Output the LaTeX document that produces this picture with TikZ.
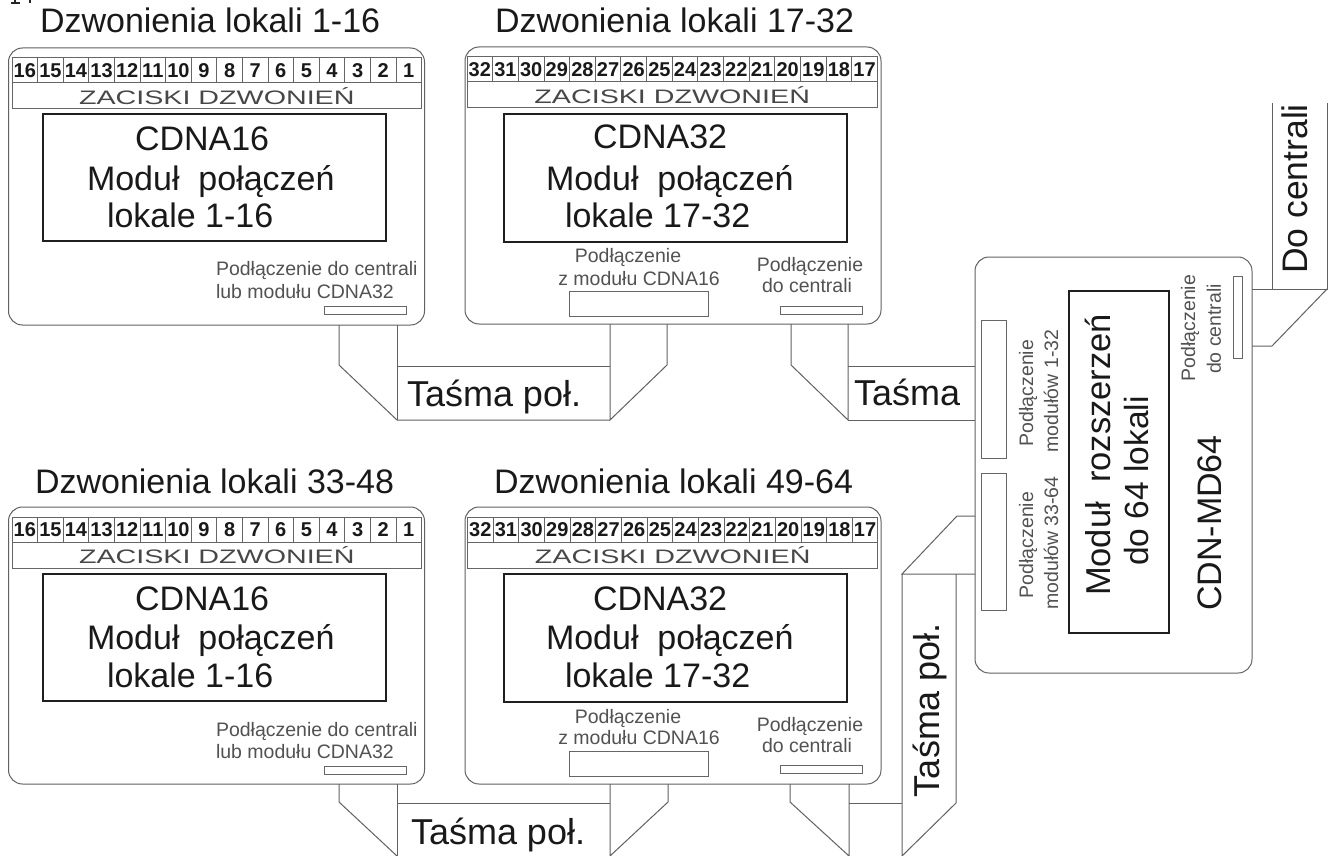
\documentclass[tikz,border=0pt]{standalone}
\usepackage{fontspec}
\setmainfont{Liberation Sans}
\tikzset{
  every node/.style={inner sep=0pt,outer sep=0pt,text=black!90},
  modbox/.style={draw=black!62,line width=1pt,rounded corners=14pt,anchor=north west,fill=white},
  lcdbox/.style={draw=black!88,line width=2.2pt,anchor=north west},
  port/.style={draw=black!60,line width=1pt,anchor=north west},
  strip/.style={draw=black!60,line width=1pt,anchor=north west},
  title/.style={font=\fontsize{34}{34}\selectfont,anchor=base west},
  lcd/.style={font=\fontsize{34}{34}\selectfont,anchor=base west},
  small/.style={font=\fontsize{19.5}{19.5}\selectfont,text=black!68},
  num/.style={font=\fontsize{20}{20}\bfseries\selectfont},
  ribbon/.style={draw=black!62,line width=1pt,line join=miter},
  big/.style={font=\fontsize{34}{34}\selectfont},
  bigger/.style={font=\fontsize{36}{36}\selectfont},
}
% #1 prefix, #2 box x, #3 box y, #4 strip x, #5 cell width, #6 first number, #7 last number
\newcommand{\modulebase}[7]{%
  \node[modbox,minimum width=416pt,minimum height=277pt] (#1) at (#2,#3) {};
  \node[strip,minimum width=#5*16 pt,minimum height=25pt] (#1n) at (#4,#3+10) {};
  \node[strip,minimum width=#5*16 pt,minimum height=26pt] (#1z) at (#4,#3+35) {};
  \node[font=\fontsize{19.5}{19.5}\selectfont,text=black!72] (#1zt) at (#1z.center) {\scalebox{1.47}[1]{ZACISKI DZWONIEŃ}};
  \foreach \k in {0,...,15} {
    \pgfmathtruncatemacro{\lab}{#6-\k}
    \node[num] (#1c\k) at (#4+#5*\k+#5/2,#3+22.5) {\lab};
    \ifnum\k>0 \draw[black!60,line width=.9pt] (#4+#5*\k,#3+10) -- (#4+#5*\k,#3+35); \fi
  }
}
\begin{document}
\begin{tikzpicture}[x=1pt,y=-1pt]
\useasboundingbox (0,0) rectangle (1330,856);
\fill[white] (0,0) rectangle (1330,856);

% stray marks at the top edge
\draw[black!85,line width=1.2pt] (15,0) -- (15,3) (11,3) -- (20,3) (30,0) -- (30,3);

\modulebase{a}{8.5}{48}{12}{25.6}{16}{1}
\modulebase{b}{465}{47}{467}{25.65}{32}{17}
\modulebase{c}{8.5}{507}{12}{25.6}{16}{1}
\modulebase{d}{465}{507}{467.5}{25.65}{32}{17}

% module A
\node[title] (ta) at (40,33) {Dzwonienia lokali 1-16};
\node[lcdbox,minimum width=343pt,minimum height=127pt] (al) at (43,114) {};
\node[lcd] (al1) at (135,150) {CDNA16};
\node[lcd] (al2) at (87,190) {Moduł\ \ połączeń};
\node[lcd] (al3) at (107,227) {lokale 1-16};
\node[small,anchor=base west] (as1) at (216,275) {Podłączenie do centrali};
\node[small,anchor=base west] (as2) at (216,298) {lub modułu CDNA32};
\node[port,minimum width=82pt,minimum height=8.5pt] (ap) at (324,306) {};

% module B
\node[title] (tb) at (495,33) {Dzwonienia lokali 17-32};
\node[lcdbox,minimum width=343pt,minimum height=128pt] (bl) at (504,114) {};
\node[lcd] (bl1) at (593,149) {CDNA32};
\node[lcd] (bl2) at (546,190) {Moduł\ \ połączeń};
\node[lcd] (bl3) at (565,227) {lokale 17-32};
\node[small,anchor=base] (bs1) at (628,262) {Podłączenie};
\node[small,anchor=base] (bs2) at (639,285) {z modułu CDNA16};
\node[port,minimum width=139pt,minimum height=25pt] (bp1) at (569,291) {};
\node[small,anchor=base] (bs3) at (810,271) {Podłączenie};
\node[small,anchor=base] (bs4) at (807,292) {do centrali};
\node[port,minimum width=82pt,minimum height=8.5pt] (bp2) at (780,306) {};

% module C
\node[title] (tc) at (35,493) {Dzwonienia lokali 33-48};
\node[lcdbox,minimum width=343pt,minimum height=127pt] (cl) at (43,574) {};
\node[lcd] (cl1) at (135,610) {CDNA16};
\node[lcd] (cl2) at (87,649) {Moduł\ \ połączeń};
\node[lcd] (cl3) at (107,687) {lokale 1-16};
\node[small,anchor=base west] (cs1) at (216,736) {Podłączenie do centrali};
\node[small,anchor=base west] (cs2) at (216,758) {lub modułu CDNA32};
\node[port,minimum width=82pt,minimum height=8.5pt] (cp) at (324,766) {};

% module D
\node[title] (td) at (494,493) {Dzwonienia lokali 49-64};
\node[lcdbox,minimum width=343pt,minimum height=128pt] (dl) at (504,574) {};
\node[lcd] (dl1) at (593,610) {CDNA32};
\node[lcd] (dl2) at (546,649) {Moduł\ \ połączeń};
\node[lcd] (dl3) at (565,687) {lokale 17-32};
\node[small,anchor=base] (ds1) at (628,723) {Podłączenie};
\node[small,anchor=base] (ds2) at (639,744) {z modułu CDNA16};
\node[port,minimum width=139pt,minimum height=25pt] (dp1) at (569,751) {};
\node[small,anchor=base] (ds3) at (810,731) {Podłączenie};
\node[small,anchor=base] (ds4) at (807,752) {do centrali};
\node[port,minimum width=82pt,minimum height=8.5pt] (dp2) at (780,765) {};

% module E (right, rotated)
\node[modbox,minimum width=277pt,minimum height=416pt] (e) at (975,257) {};
\node[lcdbox,minimum width=100pt,minimum height=342pt] (el) at (1069,291) {};
\node[port,minimum width=25pt,minimum height=138pt] (ep1) at (981,320) {};
\node[port,minimum width=25pt,minimum height=137pt] (ep2) at (981,473) {};
\node[port,minimum width=9pt,minimum height=82pt] (ep3) at (1233,276) {};
\node[rotate=90,font=\fontsize{34.5}{34.5}\selectfont] (et1) at (1098,455) {Moduł\ \ rozszerzeń};
\node[rotate=90,font=\fontsize{33.5}{33.5}\selectfont] (et2) at (1137,481) {do 64 lokali};
\node[rotate=90,big] (et3) at (1210,523) {CDN-MD64};
\node[rotate=90,small] (es1) at (1028,393) {Podłączenie};
\node[rotate=90,small] (es2) at (1051,391) {modułów 1-32};
\node[rotate=90,small] (es3) at (1028,545) {Podłączenie};
\node[rotate=90,small] (es4) at (1051,543) {modułów 33-64};
\node[rotate=90,small] (es5) at (1190,328) {Podłączenie};
\node[rotate=90,small] (es6) at (1214,329) {do centrali};

% ---- ribbon ends ----
\coordinate (r1a) at (339,365); \coordinate (r1b) at (397,420);
\coordinate (r1c) at (397,366); \coordinate (r1d) at (667,365);
\coordinate (r2a) at (791,365); \coordinate (r2b) at (848,420);
\coordinate (r2c) at (848,366);
\coordinate (r3a) at (1272,103); \coordinate (r3b) at (1272,289);
\coordinate (r3c) at (1327,103); \coordinate (r3d) at (1327,289);
\coordinate (r3e) at (1272,346);
\coordinate (r4a) at (339,802); \coordinate (r4b) at (397,856);
\coordinate (r4c) at (397,803); \coordinate (r4d) at (668,802);
\coordinate (r4e) at (610,856);
\coordinate (r5a) at (790,802); \coordinate (r5b) at (849,856);
\coordinate (r5c) at (849,803);
\coordinate (r6a) at (957,516); \coordinate (r6b) at (902,574);
\coordinate (r6c) at (956,574); \coordinate (r6d) at (956,803);
\coordinate (r6e) at (902,803); \coordinate (r6f) at (902,856);

% A -> B
\draw[ribbon] (339,325 |- a.south) -- (r1a) -- (r1b) -- (610,420);
\draw[ribbon] (397,325 |- a.south) -- (r1b);
\draw[ribbon] (r1c) -- (610,366);
\draw[ribbon] (610,325 |- b.south) -- (610,420) -- (r1d) -- (667,325 |- b.south);
% B -> E
\draw[ribbon] (791,325 |- b.south) -- (r2a) -- (r2b) -- (848,325 |- b.south);
\draw[ribbon] (r2c) -- (975,366);
\draw[ribbon] (r2b) -- (975,420);
% E -> exchange
\draw[ribbon] (r3a) -- (r3b);
\draw[ribbon] (r3c) -- (r3d) -- (1252,289);
\draw[ribbon] (r3d) -- (r3e) -- (1252,346);
% C -> D
\draw[ribbon] (339,784 |- c.south) -- (r4a) -- (r4b);
\draw[ribbon] (397,784 |- c.south) -- (r4b);
\draw[ribbon] (r4c) -- (610,803);
\draw[ribbon] (610,784 |- d.south) -- (r4e) -- (r4d) -- (668,784 |- d.south);
% D -> E
\draw[ribbon] (790,784 |- d.south) -- (r5a) -- (r5b) -- (849,784 |- d.south);
\draw[ribbon] (r5c) -- (r6e);
\draw[ribbon] (975,516) -- (r6a) -- (r6b) -- (975,574);
\draw[ribbon] (r6c) -- (r6d) -- (r6f) -- (r6b);

% ribbon labels
\node[bigger,anchor=base west] (lr1) at (407,406) {Taśma poł.};
\node[bigger,anchor=base west] (lr2) at (854,405) {Taśma};
\node[rotate=90,font=\fontsize{35.5}{35.5}\selectfont] (lr3) at (1295,189) {Do centrali};
\node[bigger,anchor=base west] (lr4) at (411,844) {Taśma poł.};
\node[bigger,rotate=90] (lr5) at (930,710) {Taśma poł.};
\end{tikzpicture}
\end{document}
